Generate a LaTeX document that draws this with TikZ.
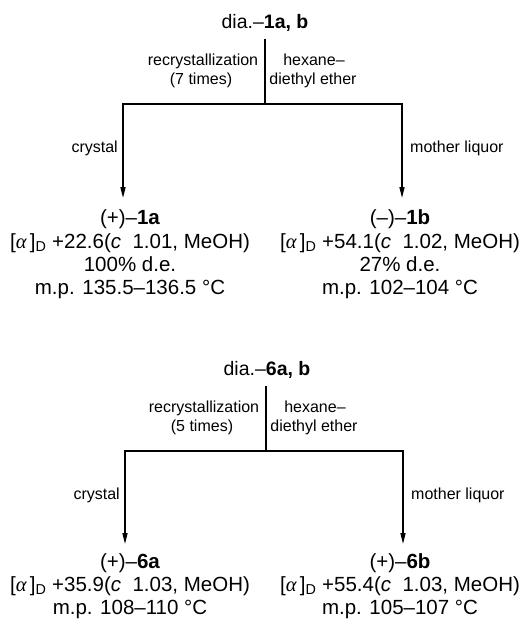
\documentclass[tikz,border=0pt]{standalone}
\usepackage{fontspec}
\setmainfont{Liberation Sans}
\newfontfamily\greekserif{Liberation Serif}
\usetikzlibrary{arrows.meta}
\tikzset{
  conn/.style={line width=1.5pt, line cap=rect},
  flow/.style={line width=1.3pt, -{Triangle[width=5pt,length=11pt]}},
  big/.style={font=\fontsize{20.5}{23}\selectfont, anchor=base, inner sep=0pt},
  ttl/.style={font=\fontsize{19.5}{23}\selectfont, anchor=base, inner sep=0pt},
  small/.style={font=\fontsize{16}{18}\selectfont, anchor=base, inner sep=0pt},
}
\newcommand{\adrot}[1]{[{\greekserif\itshape α}\,]\textsubscript{D} #1}
\begin{document}
\begin{tikzpicture}[x=1pt,y=1pt]
\useasboundingbox (0,0) rectangle (521,-624);
% ---------- first scheme ----------
\node[ttl] (t1) at (265,-28) {dia.–\textbf{1a, b}};
\coordinate (v1top) at (265,-40);
\coordinate (j1) at (265,-104);
\coordinate (l1) at (123,-104);
\coordinate (r1) at (402,-104);
\coordinate (l1e) at (123,-198);
\coordinate (r1e) at (402,-198);
\draw[conn] (v1top) -- (j1);
\draw[conn] (l1) -- (r1);
\draw[flow] (l1) -- (l1e);
\draw[flow] (r1) -- (r1e);
\node[small] (rc1) at (203,-65) {recrystallization};
\node[small] (rc1b) at (201,-84) {(7 times)};
\node[small] (hx1) at (314,-65) {hexane–};
\node[small] (hx1b) at (313,-84) {diethyl ether};
\node[small, anchor=base east] (cr1) at (118,-152) {crystal};
\node[small, anchor=base west] (ml1) at (410,-152) {mother liquor};
\node[big] (p1a) at (130,-224) {(+)–\textbf{1a}};
\node[big] (p1b) at (130,-248) {\adrot{+22.6(\textit{c}\ \ 1.01, MeOH)}};
\node[big] (p1c) at (130,-271) {100\% d.e.};
\node[big] (p1d) at (130,-294) {m.p. 135.5–136.5 °C};
\node[big] (q1a) at (400,-224) {(–)–\textbf{1b}};
\node[big] (q1b) at (400,-248) {\adrot{+54.1(\textit{c}\ \ 1.02, MeOH)}};
\node[big] (q1c) at (400,-271) {27\% d.e.};
\node[big] (q1d) at (400,-294) {m.p. 102–104 °C};
% ---------- second scheme ----------
\node[ttl] (t2) at (267,-375) {dia.–\textbf{6a, b}};
\coordinate (v2top) at (266,-387);
\coordinate (j2) at (266,-451);
\coordinate (l2) at (125,-451);
\coordinate (r2) at (403,-451);
\coordinate (l2e) at (125,-544);
\coordinate (r2e) at (403,-544);
\draw[conn] (v2top) -- (j2);
\draw[conn] (l2) -- (r2);
\draw[flow] (l2) -- (l2e);
\draw[flow] (r2) -- (r2e);
\node[small] (rc2) at (204,-412) {recrystallization};
\node[small] (rc2b) at (202,-431) {(5 times)};
\node[small] (hx2) at (315,-412) {hexane–};
\node[small] (hx2b) at (314,-431) {diethyl ether};
\node[small, anchor=base east] (cr2) at (120,-499) {crystal};
\node[small, anchor=base west] (ml2) at (411,-499) {mother liquor};
\node[big] (p2a) at (130,-568) {(+)–\textbf{6a}};
\node[big] (p2b) at (130,-591) {\adrot{+35.9(\textit{c}\ \ 1.03, MeOH)}};
\node[big] (p2c) at (130,-614) {m.p. 108–110 °C};
\node[big] (q2a) at (400,-568) {(+)–\textbf{6b}};
\node[big] (q2b) at (400,-591) {\adrot{+55.4(\textit{c}\ \ 1.03, MeOH)}};
\node[big] (q2c) at (400,-614) {m.p. 105–107 °C};
\end{tikzpicture}
\end{document}
